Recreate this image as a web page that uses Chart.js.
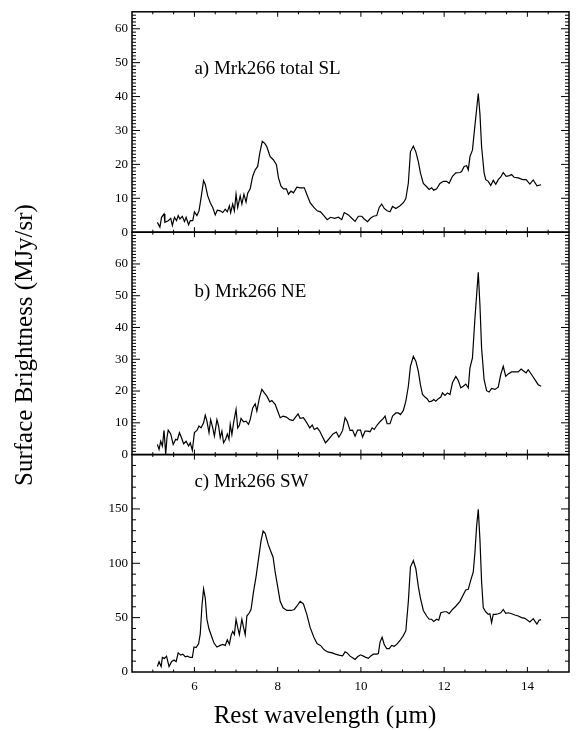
<!DOCTYPE html>
<html>
<head>
<meta charset="utf-8">
<script src="https://cdn.jsdelivr.net/npm/chart.js@4.4.1/dist/chart.umd.min.js"></script>
<style>
  html, body { margin: 0; padding: 0; background: #fff; }
  #wrap { width: 582px; height: 731px; }
</style>
</head>
<body>
<div id="wrap"><canvas id="spectra" width="582" height="731"></canvas></div>
<script>
// a) Mrk266 total SL
const wavelengthA = [5.11,5.17,5.21,5.27,5.29,5.37,5.43,5.47,5.52,5.57,5.61,5.65,5.71,5.76,5.80,5.86,5.90,5.96,6.00,6.06,6.11,6.16,6.22,6.26,6.32,6.38,6.44,6.50,6.55,6.62,6.68,6.74,6.79,6.84,6.87,6.92,6.96,7.00,7.04,7.10,7.14,7.19,7.24,7.28,7.34,7.40,7.46,7.52,7.57,7.63,7.69,7.74,7.82,7.90,7.97,8.02,8.08,8.14,8.21,8.26,8.32,8.38,8.46,8.54,8.64,8.70,8.78,8.87,8.95,9.03,9.11,9.19,9.27,9.37,9.46,9.54,9.60,9.70,9.78,9.86,9.94,10.02,10.08,10.16,10.23,10.30,10.38,10.44,10.50,10.56,10.63,10.70,10.76,10.84,10.94,11.02,11.08,11.14,11.19,11.26,11.32,11.38,11.43,11.50,11.58,11.64,11.70,11.75,11.82,11.90,11.98,12.06,12.12,12.20,12.28,12.38,12.42,12.48,12.54,12.58,12.62,12.68,12.74,12.82,12.86,12.90,12.96,13.00,13.06,13.12,13.18,13.24,13.30,13.36,13.42,13.49,13.57,13.62,13.68,13.78,13.89,13.97,14.06,14.14,14.23,14.33];
const fluxA = [2.9,1.5,4.4,5.4,2.9,3.4,4.1,2.0,4.4,3.4,4.9,3.9,4.7,3.1,4.4,2.2,3.4,3.4,6.0,4.9,6.3,10.2,15.2,14.1,10.7,8.7,7.3,5.1,6.5,6.3,5.8,6.8,6.0,7.8,5.8,8.3,6.3,11.2,7.3,10.7,8.3,11.2,8.9,11.5,12.8,16.5,18.4,19.4,23.3,26.8,26.2,25.2,22.3,21.3,19.9,16.0,13.6,12.8,12.8,11.2,12.1,11.6,13.3,13.1,13.1,11.2,8.7,7.3,6.3,6.0,4.9,3.7,4.4,4.1,4.4,3.7,5.8,5.1,4.1,3.2,4.7,4.7,3.9,3.1,4.1,4.7,4.9,7.3,8.3,7.0,6.3,6.0,7.6,7.0,7.8,8.7,9.9,14.5,23.7,25.4,23.7,20.8,17.5,14.4,13.4,12.6,13.1,12.4,12.8,14.4,15.0,15.0,14.4,16.5,17.5,17.6,17.9,19.4,19.6,18.4,22.3,24.2,31.5,40.9,34.9,25.2,17.5,15.5,15.0,13.8,15.3,14.1,15.5,16.3,17.6,16.5,16.7,17.0,16.2,16.0,15.5,15.5,14.2,15.4,13.7,14.0];

// b) Mrk266 NE
const wavelengthB = [5.11,5.15,5.19,5.23,5.27,5.31,5.34,5.37,5.43,5.49,5.55,5.59,5.64,5.69,5.74,5.80,5.86,5.90,5.95,6.00,6.06,6.11,6.16,6.22,6.26,6.30,6.35,6.39,6.44,6.48,6.54,6.58,6.62,6.66,6.70,6.75,6.79,6.83,6.86,6.90,6.94,7.00,7.04,7.08,7.12,7.18,7.24,7.30,7.34,7.40,7.46,7.50,7.56,7.62,7.68,7.74,7.81,7.86,7.94,8.00,8.06,8.13,8.21,8.29,8.37,8.42,8.49,8.54,8.62,8.70,8.77,8.83,8.88,8.95,9.01,9.07,9.15,9.23,9.33,9.41,9.47,9.51,9.56,9.62,9.67,9.74,9.80,9.86,9.92,9.99,10.04,10.10,10.16,10.22,10.27,10.32,10.39,10.47,10.54,10.58,10.63,10.70,10.76,10.84,10.90,10.95,11.02,11.08,11.14,11.19,11.26,11.32,11.38,11.43,11.48,11.54,11.59,11.64,11.70,11.75,11.80,11.86,11.92,11.96,12.02,12.08,12.14,12.20,12.28,12.34,12.40,12.46,12.52,12.58,12.62,12.68,12.74,12.82,12.86,12.90,12.96,13.02,13.08,13.14,13.22,13.30,13.36,13.42,13.48,13.54,13.62,13.70,13.78,13.85,13.90,13.97,14.02,14.10,14.18,14.26,14.33];
const fluxB = [3.2,1.6,4.2,2.7,7.6,0.0,5.3,7.7,6.5,3.2,4.8,4.6,6.9,5.3,3.4,4.2,2.7,3.7,1.3,6.9,7.6,9.0,8.4,10.0,12.4,10.5,6.9,11.0,8.4,5.8,11.0,9.0,5.3,7.4,3.7,4.8,6.5,4.8,9.5,6.3,10.0,14.2,8.4,9.2,11.4,10.3,10.5,9.5,11.0,14.7,16.0,13.7,17.8,20.5,19.4,18.4,16.6,17.0,15.8,13.7,11.6,12.1,11.8,11.0,10.7,11.6,12.8,11.4,11.6,10.0,8.4,9.3,7.9,8.4,7.4,5.8,3.7,4.9,6.5,7.1,5.5,6.3,7.6,11.6,10.5,7.6,7.7,5.8,7.7,7.7,5.5,7.4,7.4,7.2,8.4,7.9,9.3,10.5,11.4,12.1,9.7,9.7,12.1,13.1,13.1,12.6,13.9,16.8,21.5,27.8,30.9,29.4,26.2,22.0,18.9,18.1,17.6,16.6,16.8,17.3,16.8,17.6,18.1,19.4,18.6,19.4,18.9,22.6,24.6,23.3,21.0,21.5,22.2,21.0,27.3,30.4,42.9,57.4,47.1,33.5,23.6,20.1,19.7,20.8,20.5,21.2,25.2,27.8,24.6,25.4,26.0,26.0,26.0,26.9,26.4,25.7,26.7,25.2,23.6,22.0,21.5];

// c) Mrk266 SW
const wavelengthC = [5.11,5.15,5.20,5.23,5.28,5.33,5.39,5.45,5.51,5.56,5.61,5.67,5.72,5.78,5.83,5.90,5.95,5.99,6.04,6.10,6.14,6.18,6.22,6.26,6.30,6.35,6.42,6.47,6.54,6.62,6.68,6.74,6.79,6.84,6.88,6.92,6.96,7.00,7.04,7.08,7.14,7.18,7.22,7.26,7.32,7.36,7.42,7.48,7.54,7.60,7.65,7.70,7.77,7.82,7.89,7.94,8.00,8.06,8.13,8.22,8.32,8.40,8.46,8.54,8.62,8.70,8.78,8.87,8.95,9.03,9.11,9.20,9.31,9.39,9.47,9.56,9.62,9.67,9.74,9.80,9.86,9.92,9.99,10.06,10.12,10.18,10.23,10.30,10.38,10.42,10.46,10.51,10.56,10.62,10.68,10.74,10.80,10.86,10.94,11.02,11.08,11.14,11.19,11.26,11.32,11.38,11.43,11.50,11.58,11.64,11.70,11.75,11.82,11.87,11.92,12.00,12.06,12.12,12.20,12.28,12.38,12.46,12.52,12.58,12.64,12.70,12.74,12.78,12.82,12.86,12.90,12.94,13.00,13.06,13.10,13.14,13.18,13.24,13.30,13.36,13.42,13.48,13.54,13.62,13.70,13.78,13.86,13.94,14.06,14.14,14.23,14.28,14.33];
const fluxC = [5.0,9.5,5.0,13.4,12.5,14.6,5.0,9.5,11.0,9.5,17.6,15.5,16.4,14.0,14.6,13.4,13.4,23.0,22.4,26.0,35.0,60.5,76.4,68.0,48.5,39.5,32.0,26.6,23.0,24.5,25.4,24.5,29.6,25.4,33.5,37.4,34.4,48.5,41.0,34.4,48.5,41.0,34.4,51.5,54.5,57.5,74.0,87.5,104.0,120.6,129.6,127.5,117.6,112.5,105.6,92.0,78.5,65.0,59.0,56.6,56.6,57.5,60.5,65.0,62.6,53.0,41.0,32.0,26.0,24.5,20.6,18.5,17.6,16.4,15.5,14.9,18.5,17.6,14.6,13.1,11.6,14.0,15.8,14.6,13.4,12.5,14.6,16.4,16.4,17.0,27.5,32.0,25.4,21.5,21.5,24.5,23.6,25.4,29.0,33.5,38.0,65.0,96.5,102.6,95.0,78.5,68.0,56.6,51.5,48.5,48.5,46.4,48.5,47.6,54.5,55.4,55.4,53.6,57.5,60.5,65.0,71.0,75.5,76.1,84.5,92.0,110.0,134.0,149.7,122.0,83.0,59.0,55.4,53.0,53.6,45.5,53.0,53.0,53.6,54.5,57.5,53.9,54.5,53.6,52.4,51.5,50.0,49.4,46.1,49.1,44.0,47.6,48.2];

const panelLabels = ["a) Mrk266 total SL", "b) Mrk266 NE", "c) Mrk266 SW"];
const xTicks = [6, 8, 10, 12, 14];
const yTicksA = [0, 10, 20, 30, 40, 50, 60];
const yTicksB = [0, 10, 20, 30, 40, 50, 60];
const yTicksC = [0, 50, 100, 150];

const SERIF = "'Liberation Serif', 'Times New Roman', serif";
Chart.defaults.font.family = SERIF;
Chart.defaults.color = "#000";

// per panel: axis id, range, ticks, minor step, where the label sits (data coords)
const panels = [
  { id: "yA", min: 0, max: 65, ticks: yTicksA, minor: 1, major: 10, label: panelLabels[0], labelY: 48, weight: 223 },
  { id: "yB", min: 0, max: 70, ticks: yTicksB, minor: 1, major: 10, label: panelLabels[1], labelY: 51.3, weight: 225 },
  { id: "yC", min: 0, max: 200, ticks: yTicksC, minor: 10, major: 50, label: panelLabels[2], labelY: 175, weight: 220 },
];

const toPoints = (xs, ys) => xs.map((x, i) => ({ x, y: ys[i] }));

function strokeLine(ctx, x1, y1, x2, y2) {
  ctx.beginPath();
  ctx.moveTo(x1, y1);
  ctx.lineTo(x2, y2);
  ctx.stroke();
}

const framePlugin = {
  id: "frame",
  afterDatasetsDraw(chart) {
    const { ctx, chartArea, scales } = chart;
    const xs = scales.x;
    ctx.save();
    ctx.strokeStyle = "#000";

    panels.forEach((p) => {
      const ys = scales[p.id];
      ctx.lineWidth = 1.5;
      ctx.strokeRect(chartArea.left, ys.top, chartArea.right - chartArea.left, ys.bottom - ys.top);

      ctx.lineWidth = 1;
      // x ticks, inward, top and bottom of every panel
      for (let k = 10; k <= 29; k++) {
        const px = xs.getPixelForValue(k / 2);
        const len = k % 4 === 0 ? 5 : 2.5;
        strokeLine(ctx, px, ys.bottom, px, ys.bottom - len);
        strokeLine(ctx, px, ys.top, px, ys.top + len);
      }
      // y ticks, inward, left and right
      for (let v = p.min + p.minor; v < p.max; v += p.minor) {
        const py = ys.getPixelForValue(v);
        const len = v % p.major === 0 ? 8 : 4;
        strokeLine(ctx, chartArea.left, py, chartArea.left + len, py);
        strokeLine(ctx, chartArea.right, py, chartArea.right - len, py);
      }

      ctx.font = `19px ${SERIF}`;
      ctx.fillStyle = "#000";
      ctx.textAlign = "left";
      ctx.textBaseline = "middle";
      ctx.fillText(p.label, xs.getPixelForValue(6), ys.getPixelForValue(p.labelY));
    });

    // axis titles
    ctx.font = `25px ${SERIF}`;
    ctx.textAlign = "center";
    ctx.textBaseline = "middle";
    ctx.fillText("Rest wavelength (\u00b5m)", 325, 716);

    ctx.translate(25, 345);
    ctx.rotate(-Math.PI / 2);
    ctx.fillText("Surface Brightness (MJy/sr)", 0, 0);
    ctx.restore();
  },
};

function yScale(p, order) {
  return {
    type: "linear",
    position: "left",
    stack: "panels",
    stackWeight: p.weight,
    weight: order,
    min: p.min,
    max: p.max,
    grid: { display: false, drawTicks: false },
    border: { display: false },
    ticks: { font: { size: 13 }, padding: 4, color: "#000" },
    afterBuildTicks: (scale) => {
      scale.ticks = p.ticks.map((value) => ({ value }));
    },
    afterFit: (scale) => {
      scale.width = 132;
    },
  };
}

const lineStyle = {
  borderColor: "#000",
  borderWidth: 1.2,
  pointRadius: 0,
  tension: 0,
  fill: false,
};

new Chart(document.getElementById("spectra"), {
  type: "line",
  data: {
    datasets: [
      { ...lineStyle, label: panelLabels[0], data: toPoints(wavelengthA, fluxA), yAxisID: "yA" },
      { ...lineStyle, label: panelLabels[1], data: toPoints(wavelengthB, fluxB), yAxisID: "yB" },
      { ...lineStyle, label: panelLabels[2], data: toPoints(wavelengthC, fluxC), yAxisID: "yC" },
    ],
  },
  options: {
    responsive: false,
    animation: false,
    layout: { padding: { top: 4, right: 13, left: 0, bottom: 0 } },
    scales: {
      x: {
        type: "linear",
        position: "bottom",
        min: 4.5,
        max: 15,
        grid: { display: false, drawTicks: false },
        border: { display: false },
        ticks: { font: { size: 13 }, padding: 7, color: "#000" },
        afterBuildTicks: (scale) => {
          scale.ticks = xTicks.map((value) => ({ value }));
        },
        afterFit: (scale) => {
          scale.height = 59;
        },
      },
      yA: yScale(panels[0], 3),
      yB: yScale(panels[1], 2),
      yC: yScale(panels[2], 1),
    },
    plugins: {
      legend: { display: false },
      tooltip: { enabled: false },
    },
  },
  plugins: [framePlugin],
});
</script>
</body>
</html>
